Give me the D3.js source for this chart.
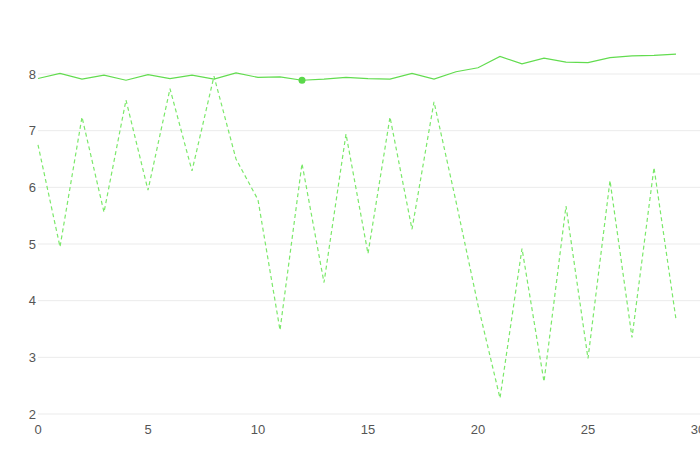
<!DOCTYPE html>
<html><head><meta charset="utf-8">
<script src="https://cdn.jsdelivr.net/npm/d3@7"></script>
<style>body{margin:0;background:#fff}svg{display:block}</style>
</head><body>
<svg id="c" width="700" height="450"></svg>
<script>
const xs = d3.range(0, 30);
const solidValues = [7.92,8.01,7.91,7.98,7.89,7.99,7.92,7.98,7.91,8.02,7.94,7.95,7.89,7.91,7.94,7.92,7.91,8.01,7.91,8.04,8.11,8.31,8.18,8.28,8.21,8.20,8.29,8.32,8.33,8.35];
const dashedValues = [6.75,4.95,7.24,5.56,7.54,5.95,7.74,6.29,7.96,6.5,5.78,3.48,6.42,4.32,6.94,4.83,7.24,5.26,7.51,5.75,3.92,2.28,4.92,2.57,5.67,2.98,6.12,3.35,6.35,3.67];
const xTicks = [0,5,10,15,20,25,30];
const yTicks = [2,3,4,5,6,7,8];
const highlightIndex = 12;

const svg = d3.select('#c');
const x = d3.scaleLinear().domain([0,30]).range([38,698]);
const y = d3.scaleLinear().domain([2,8]).range([414,74]);
const color = '#62dc4f';
const font = "'Liberation Sans Narrow', 'Arial Narrow', 'Liberation Sans', sans-serif";

svg.append('g').selectAll('line').data(yTicks).join('line')
  .attr('x1',38).attr('x2',700).attr('y1',d=>y(d)).attr('y2',d=>y(d))
  .attr('stroke','#ebebeb').attr('stroke-width',1);

svg.append('g').selectAll('text').data(yTicks).join('text')
  .attr('x',36).attr('y',d=>y(d)).attr('dy','0.35em').attr('text-anchor','end')
  .attr('font-family',font).attr('font-size',13).attr('fill','#555')
  .text(d=>d);

svg.append('g').selectAll('text').data(xTicks).join('text')
  .attr('x',d=>x(d)).attr('y',434).attr('text-anchor','middle')
  .attr('font-family',font).attr('font-size',13).attr('fill','#555')
  .text(d=>d);

const line = d3.line().x((d,i)=>x(xs[i])).y(d=>y(d));
svg.append('path').datum(dashedValues).attr('d',line).attr('fill','none')
  .attr('stroke','#7be86a').attr('stroke-width',1.2).attr('stroke-dasharray','4,3');
svg.append('path').datum(solidValues).attr('d',line).attr('fill','none')
  .attr('stroke',color).attr('stroke-width',1.2);
svg.append('circle').attr('cx',x(xs[highlightIndex])).attr('cy',y(solidValues[highlightIndex]))
  .attr('r',3.5).attr('fill','#5ad84a');
</script>
</body></html>
